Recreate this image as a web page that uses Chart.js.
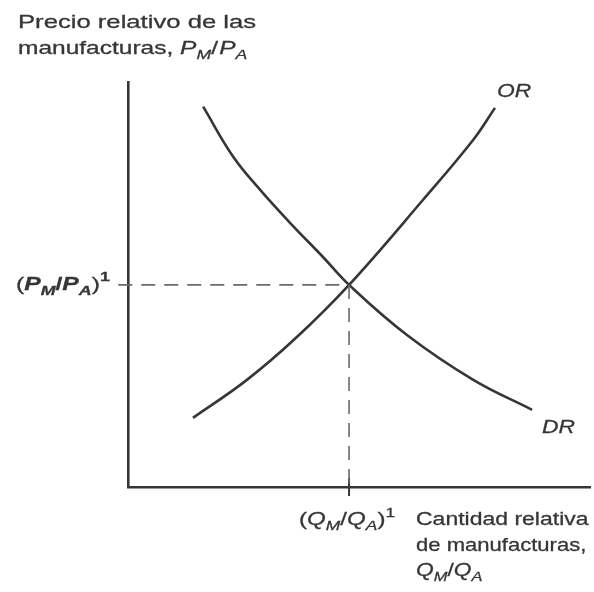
<!doctype html>
<html lang="es">
<head>
<meta charset="UTF-8" />
<title>Oferta y demanda relativas</title>
<script src="https://cdn.jsdelivr.net/npm/chart.js"></script>
<style>
  html, body { margin: 0; padding: 0; background: #fff; }
  #wrap { width: 594px; height: 592px; }
</style>
</head>
<body>
<div id="wrap"><canvas id="chart" width="594" height="592"></canvas></div>
<script>
// relative demand curve (DR)
const drX = [1.70, 2.38, 2.99, 3.67, 4.41, 5.00, 6.31, 7.81, 9.14];
const drY = [9.41, 8.17, 7.35, 6.53, 5.69, 5.00, 3.76, 2.65, 1.91];
// relative supply curve (OR)
const orX = [1.47, 2.69, 3.82, 5.00, 6.67, 7.81, 8.30];
const orY = [1.71, 2.65, 3.71, 5.00, 7.10, 8.59, 9.38];
// equilibrium point
const eqX = 5;
const eqY = 5;

const ink = "#363636";
const font = "'Liberation Sans', Arial, sans-serif";

const toPts = (xs, ys) => xs.map((x, i) => ({ x: x, y: ys[i] }));

// draws a run of text pieces, set wide by `sx`; pieces can be italic, sub or sup
function rich(ctx, parts, x, y, size, sx) {
  ctx.save();
  ctx.translate(x, y);
  ctx.scale(sx || 1.25, 1);
  ctx.lineWidth = 0.3;
  ctx.strokeStyle = ink;
  let cx = 0;
  parts.forEach(p => {
    const s = p.sub || p.sup ? size * 0.72 : size;
    ctx.font = (p.i ? "italic " : "") + (p.b ? "bold " : "") + s + "px " + font;
    let dy = 0;
    if (p.sub) dy = size * 0.32;
    if (p.sup) dy = -size * 0.38;
    ctx.fillText(p.t, cx, dy);
    ctx.strokeText(p.t, cx, dy);
    cx += ctx.measureText(p.t).width + (p.k || 0);
  });
  ctx.restore();
}

const labels = {
  id: "labels",
  afterDraw(chart) {
    const ctx = chart.ctx;
    const xs = chart.scales.x, ys = chart.scales.y;
    ctx.save();
    ctx.fillStyle = ink;
    ctx.textBaseline = "middle";
    ctx.textAlign = "left";

    // y axis title
    rich(ctx, [{ t: "Precio relativo de las" }], 18, 23, 19, 1.35);
    rich(ctx, [
      { t: "manufacturas, " },
      { t: "P", i: true }, { t: "M", i: true, sub: true }, { t: "/", k: 1 },
      { t: "P", i: true }, { t: "A", i: true, sub: true }
    ], 18, 49, 19, 1.29);

    // x axis title
    rich(ctx, [{ t: "Cantidad relativa" }], 416, 520, 19, 1.21);
    rich(ctx, [{ t: "de manufacturas," }], 416, 546, 19, 1.16);
    rich(ctx, [
      { t: "Q", i: true }, { t: "M", i: true, sub: true }, { t: "/" },
      { t: "Q", i: true }, { t: "A", i: true, sub: true }
    ], 416, 571, 19, 1.2);

    // equilibrium tick labels
    const py = ys.getPixelForValue(eqY);
    rich(ctx, [
      { t: "(" }, { t: "P", i: true, b: true }, { t: "M", i: true, b: true, sub: true },
      { t: "/", b: true }, { t: "P", i: true, b: true }, { t: "A", i: true, b: true, sub: true },
      { t: ")" }, { t: "1", b: true, sup: true }
    ], 16, py, 19, 1.3);
    const px = xs.getPixelForValue(eqX);
    rich(ctx, [
      { t: "(" }, { t: "Q", i: true }, { t: "M", i: true, sub: true },
      { t: "/" }, { t: "Q", i: true }, { t: "A", i: true, sub: true },
      { t: ")" }, { t: "1", sup: true }
    ], px - 50, 520, 19, 1.27);

    // curve names
    rich(ctx, [{ t: "OR", i: true }], xs.getPixelForValue(orX[orX.length - 1]) + 2,
      ys.getPixelForValue(orY[orY.length - 1]) - 16, 19, 1.2);
    rich(ctx, [{ t: "DR", i: true }], xs.getPixelForValue(drX[drX.length - 1]) + 10,
      ys.getPixelForValue(drY[drY.length - 1]) + 18, 19, 1.2);
    ctx.restore();
  }
};

const curve = (data, w) => ({
  data: data,
  borderColor: ink,
  borderWidth: w,
  pointRadius: 0,
  tension: 0.4,
  clip: false
});

const dashed = data => ({
  data: data,
  borderColor: "#6a6a6a",
  borderWidth: 1.6,
  borderDash: [14, 9],
  pointRadius: 0,
  clip: false
});

new Chart(document.getElementById("chart"), {
  type: "scatter",
  data: {
    datasets: [
      dashed([{ x: -0.22, y: eqY }, { x: eqX, y: eqY }]),
      dashed([{ x: eqX, y: eqY }, { x: eqX, y: 0 }]),
      { ...curve([{ x: eqX, y: 0.22 }, { x: eqX, y: -0.22 }], 2), tension: 0 },
      curve(toPts(drX, drY), 2.6),
      curve(toPts(orX, orY), 2.6)
    ].map(d => ({ ...d, showLine: true }))
  },
  options: {
    responsive: false,
    animation: false,
    events: [],
    layout: { padding: { left: 128, right: 4, top: 82, bottom: 105 } },
    plugins: { legend: { display: false }, tooltip: { enabled: false } },
    scales: {
      x: {
        type: "linear", min: 0, max: 10.45,
        grid: { display: false },
        ticks: { display: false },
        border: { display: true, color: ink, width: 2.6 },
        afterFit: s => { s.height = 0; }
      },
      y: {
        type: "linear", min: 0, max: 10.02,
        grid: { display: false },
        ticks: { display: false },
        border: { display: true, color: ink, width: 2.6 },
        afterFit: s => { s.width = 0; }
      }
    }
  },
  plugins: [labels]
});
</script>
</body>
</html>
